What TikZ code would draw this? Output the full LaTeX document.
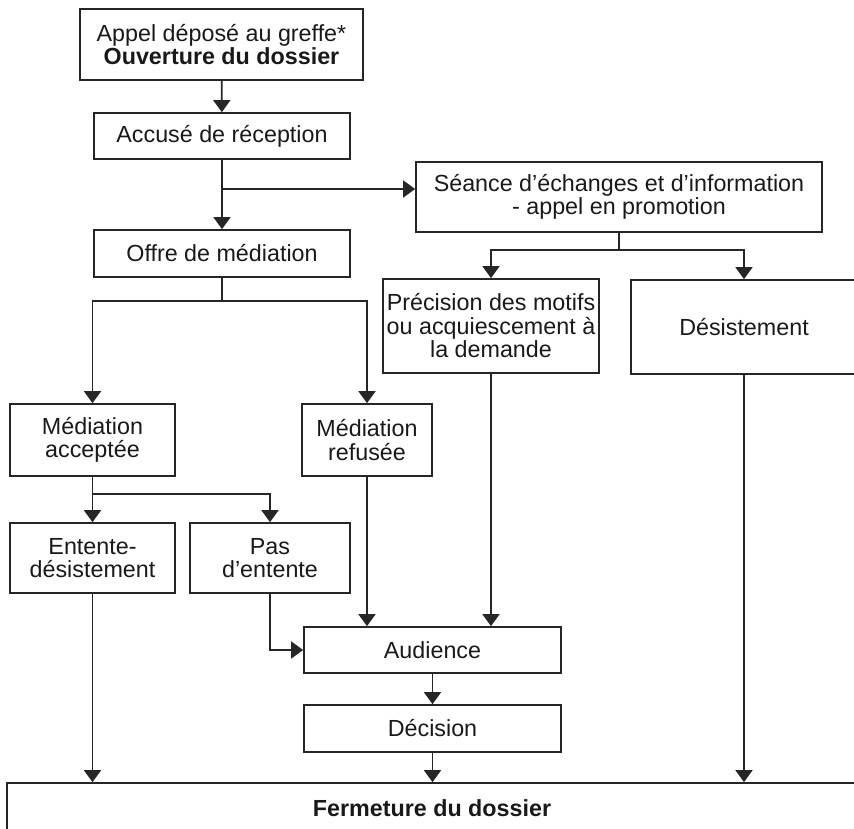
\documentclass[tikz,border=0pt]{standalone}
\usepackage{fontspec}
\setmainfont{Liberation Sans}
\usetikzlibrary{arrows.meta}
\begin{document}
\begin{tikzpicture}[x=1pt,y=-1pt,font=\fontsize{23.3}{23.5}\selectfont,
        box/.style={draw=black!85,line width=1.7pt,align=center,inner sep=2pt,text=black!90},
        flow/.style={draw=black!85,line width=1.7pt,-{Triangle[width=17pt,length=12pt]}}]
                \useasboundingbox (0,0) rectangle (854,828);
                \node[box,minimum width=283pt,minimum height=71pt] (appel) at (221.5,44.5) {Appel déposé au greffe*\\\textbf{Ouverture du dossier}};
                \node[box,minimum width=256pt,minimum height=46pt] (accuse) at (222,136) {Accusé de réception};
                \node[box,minimum width=256pt,minimum height=47pt] (offre) at (222,253.5) {Offre de médiation};
                \node[box,minimum width=406pt,minimum height=70pt] (seance) at (619,197) {Séance d’échanges et d’information\\- appel en promotion};
                \node[box,minimum width=216pt,minimum height=94pt] (precision) at (491,326) {Précision des motifs\\ou acquiescement à\\la demande};
                \node[box,minimum width=226pt,minimum height=94pt] (desist) at (744,327) {Désistement};
                \node[box,minimum width=165pt,minimum height=72pt] (acceptee) at (92.5,440) {Médiation\\acceptée};
                \node[box,minimum width=130pt,minimum height=72pt] (refusee) at (367,440) {Médiation\\refusée};
                \node[box,minimum width=165pt,minimum height=70pt] (entente) at (92.5,558) {Entente-\\désistement};
                \node[box,minimum width=160pt,minimum height=70pt] (pasentente) at (270,558) {Pas\\d’entente};
                \node[box,minimum width=257pt,minimum height=46pt] (audience) at (432.5,650) {Audience};
                \node[box,minimum width=257pt,minimum height=47pt] (decision) at (432.5,728.5) {Décision};
                \node[box,minimum width=850pt,minimum height=50pt] (fermeture) at (432,808) {\textbf{Fermeture du dossier}};
                \coordinate (split) at (222,189);
                \draw[flow] (appel) -- (accuse);
                \draw[flow] (accuse) -- (offre);
                \draw[flow] (split) -- (split -| seance.west);
                \draw[flow] (seance.south) -- ++(0,17) -| (precision.north);
                \draw[flow] (seance.south) -- ++(0,17) -| (desist.north);
                \draw[flow] (offre.south) -- ++(0,23) -| (acceptee.north);
                \draw[flow] (offre.south) -- ++(0,23) -| (refusee.north);
                \draw[flow] (acceptee.south) -- ++(0,17) -| (entente.north);
                \draw[flow] (acceptee.south) -- ++(0,17) -| (pasentente.north);
                \draw[flow] (pasentente.south) |- (audience.west);
                \draw[flow] (refusee.south) -- (refusee.south |- audience.north);
                \draw[flow] (precision.south) -- (precision.south |- audience.north);
                \draw[flow] (audience) -- (decision);
                \draw[flow] (entente.south) -- (entente.south |- fermeture.north);
                \draw[flow] (decision.south) -- (decision.south |- fermeture.north);
                \draw[flow] (desist.south) -- (desist.south |- fermeture.north);
            \end{tikzpicture}
\end{document}
